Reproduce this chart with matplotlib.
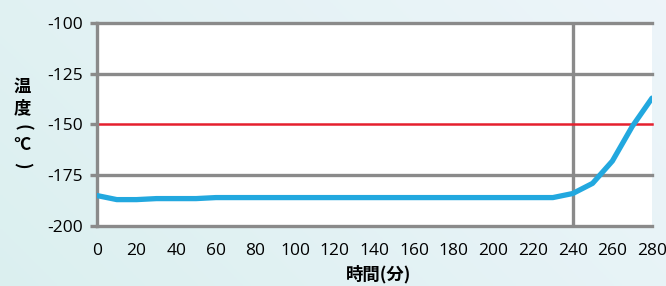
import numpy as np
import matplotlib
matplotlib.use('Agg')
import matplotlib.pyplot as plt

plt.rcParams['font.family'] = ['Open Sans', 'Noto Sans CJK JP', 'DejaVu Sans']

# data
Time = [0, 10, 20, 30, 40, 50, 60, 70, 80, 90, 100, 110, 120, 130, 140, 150, 160,
        170, 180, 190, 200, 210, 220, 230, 240, 250, 260, 270, 280]
Temp = [-185, -187, -187, -186.5, -186.5, -186.5, -186, -186, -186, -186, -186, -186,
        -186, -186, -186, -186, -186, -186, -186, -186, -186, -186, -186, -186,
        -184, -179, -168, -151, -137]
Y_ticks = [-100, -125, -150, -175, -200]
X_ticks = list(range(0, 281, 20))
Limit = -150

fig = plt.figure(figsize=(6.66, 2.86), dpi=100)

# background gradient
bg = fig.add_axes([0, 0, 1, 1], zorder=-10)
xx, yy = np.meshgrid(np.linspace(0, 1, 200), np.linspace(0, 1, 100))
t = np.clip(0.7 * xx + 0.3 * (1 - yy), 0, 1)
c0 = np.array([0.86, 0.94, 0.94])
c1 = np.array([0.93, 0.96, 0.98])
img = c0[None, None, :] * (1 - t[..., None]) + c1[None, None, :] * t[..., None]
bg.imshow(img, aspect='auto', extent=[0, 1, 0, 1])
bg.axis('off')

ax = fig.add_axes([0.1456, 0.2098, 0.979 - 0.1456, 0.9196 - 0.2098])
ax.set_facecolor('white')
gray = '#8a8a8a'

for v in Y_ticks:
    if v != Limit:
        ax.axhline(v, color=gray, lw=2.4, zorder=1, clip_on=False)
ax.axhline(Limit, color='#e5202e', lw=1.8, zorder=2, clip_on=False)
ax.axvline(240, color=gray, lw=2.4, zorder=1)

ax.plot(Time, Temp, color='#22a8df', lw=3.8, solid_capstyle='round', zorder=3)

ax.set_xlim(0, 280)
ax.set_ylim(-200, -100)
ax.set_yticks(Y_ticks)
ax.set_yticklabels([str(v) for v in Y_ticks])
ax.set_xticks(X_ticks)
ax.set_xticklabels([str(v) for v in X_ticks])

for s in ['top', 'right', 'bottom']:
    ax.spines[s].set_visible(False)
ax.spines['left'].set_color(gray)
ax.spines['left'].set_linewidth(2.4)
ax.tick_params(axis='y', length=5, width=2.4, color=gray, pad=5, labelsize=12.5)
ax.tick_params(axis='x', length=0, pad=12, labelsize=12.5)

fig.text(379 / 666, 0.04, '時間(分)', ha='center', va='center', fontsize=12.5,
         fontweight='bold', family=['Noto Sans CJK JP'])

# vertical y label, one character at a time
ylab = [('温', 87, 0), ('度', 108, 0), ('(', 127, -90), ('°C', 145, 0), (')', 165, -90)]
for ch, py, rot in ylab:
    fig.text(22 / 666, 1 - py / 286, ch, ha='center', va='center', fontsize=12.5,
             fontweight='bold', rotation=rot, family=['Noto Sans CJK JP'])

fig.savefig('out.png', dpi=100)
